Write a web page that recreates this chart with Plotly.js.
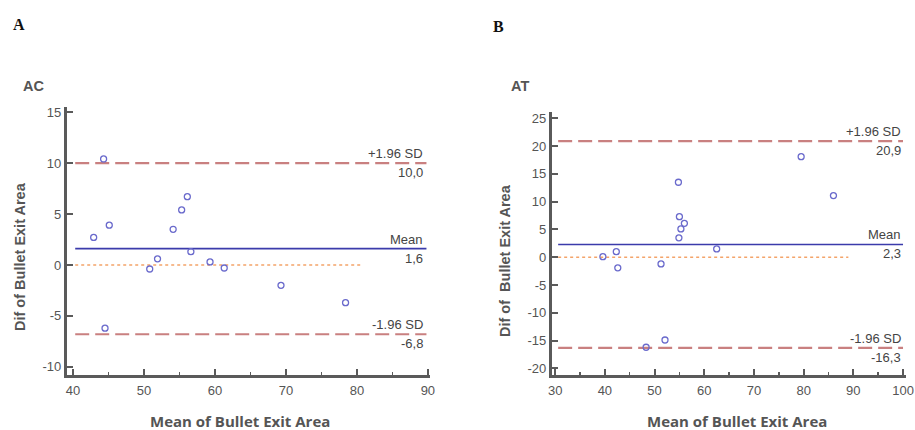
<!DOCTYPE html>
<html><head><meta charset="utf-8">
<script src="https://cdn.plot.ly/plotly-3.0.1.min.js"></script>
<style>body{margin:0;background:#fff}#c{width:915px;height:430px}</style>
</head><body><div id="c"></div>
<script>
// Panel A (AC)
const meanA = [44.3, 56.1, 55.3, 42.9, 45.1, 54.1, 56.6, 51.9, 50.8, 59.3, 61.3, 69.3, 78.4, 44.5];
const difA  = [10.4, 6.7, 5.4, 2.7, 3.9, 3.5, 1.3, 0.6, -0.4, 0.3, -0.3, -2.0, -3.7, -6.2];
const limitsA = {upper: 10.0, mean: 1.6, lower: -6.8};
const upperLabelA = ["+1.96 SD", "10,0"];
const meanLabelA = ["Mean", "1,6"];
const lowerLabelA = ["-1.96 SD", "-6,8"];
const xTicksA = [40, 50, 60, 70, 80, 90];
const yTicksA = [-10, -5, 0, 5, 10, 15];
const yTickTextA = ["-10", "-5", "0", "5", "10", "15"];

// Panel B (AT)
const meanB = [79.5, 86.0, 54.8, 55.0, 56.0, 55.3, 54.9, 62.5, 39.6, 42.3, 42.6, 51.3, 48.3, 52.1];
const difB  = [18.1, 11.1, 13.5, 7.3, 6.1, 5.1, 3.5, 1.5, 0.1, 1.0, -1.9, -1.2, -16.2, -14.9];
const limitsB = {upper: 20.9, mean: 2.3, lower: -16.3};
const upperLabelB = ["+1.96 SD", "20,9"];
const meanLabelB = ["Mean", "2,3"];
const lowerLabelB = ["-1.96 SD", "-16,3"];
const xTicksB = [30, 40, 50, 60, 70, 80, 90, 100];
const yTicksB = [-20, -15, -10, -5, 0, 5, 10, 15, 20, 25];
const yTickTextB = ["-20", "-15", "-10", "-5", "0", "5", "10", "15", "20", "25"];

const W = 915, H = 430;
const px = v => v / W, py = v => 1 - v / H;

const axisCol = '#5a5a5a';
const sdCol = '#c98080', meanCol = '#3b3bab', zeroCol = '#f4a46a', ptCol = '#6a6acc';

function panel(xs, ys, lim, xr, yr, xLine, zeroEnd) {
  return [
    {x: xLine, y: [lim.upper, lim.upper], xaxis: xr, yaxis: yr, mode: 'lines', line: {color: sdCol, width: 2.2, dash: '14px,6px'}, hoverinfo: 'skip'},
    {x: xLine, y: [lim.lower, lim.lower], xaxis: xr, yaxis: yr, mode: 'lines', line: {color: sdCol, width: 2.2, dash: '14px,6px'}, hoverinfo: 'skip'},
    {x: [xLine[0], zeroEnd], y: [0, 0], xaxis: xr, yaxis: yr, mode: 'lines', line: {color: zeroCol, width: 1.5, dash: 'dot'}, hoverinfo: 'skip'},
    {x: xLine, y: [lim.mean, lim.mean], xaxis: xr, yaxis: yr, mode: 'lines', line: {color: meanCol, width: 1.6}, hoverinfo: 'skip'},
    {x: xs, y: ys, xaxis: xr, yaxis: yr, mode: 'markers', type: 'scatter',
     marker: {symbol: 'circle-open', size: 6, color: ptCol, line: {width: 1.3, color: ptCol}}}
  ];
}

const data = [
  ...panel(meanA, difA, limitsA, 'x', 'y', [40.3, 89.8], 80.6),
  ...panel(meanB, difB, limitsB, 'x2', 'y2', [30.6, 100], 89)
];

const tickFont = {family: 'Liberation Sans, Arial, sans-serif', size: 13, color: '#555'};
function xax(dom, range, tv, dminor, anchor) {
  return {domain: dom, range: range, tickvals: tv, ticktext: tv.map(String), ticks: 'inside', ticklen: 6, tickwidth: 2,
    tickcolor: axisCol, showline: true, linecolor: axisCol, linewidth: 2.8, showgrid: false, zeroline: false,
    tickfont: tickFont, ticklabelstandoff: 2, anchor: anchor,
    minor: {ticks: 'inside', ticklen: 3, tickwidth: 1.5, tickcolor: axisCol, dtick: dminor, showgrid: false}, fixedrange: true};
}
function yax(dom, range, tv, tt, anchor) {
  return {domain: dom, range: range, tickvals: tv, ticktext: tt, ticks: 'inside', ticklen: 6, tickwidth: 2,
    tickcolor: axisCol, showline: true, linecolor: axisCol, linewidth: 2.8, showgrid: false, zeroline: false,
    tickfont: tickFont, anchor: anchor, fixedrange: true};
}

const lblFont = {family: 'Liberation Sans, Arial, sans-serif', size: 13, color: '#444'};
function lbls(xr, yr, xpos, lim, up, mn, lo) {
  const a = [];
  [[lim.upper, up], [lim.mean, mn], [lim.lower, lo]].forEach(([v, t]) => {
    a.push({xref: xr, yref: yr, x: xpos, y: v, text: t[0], showarrow: false, xanchor: 'right', yanchor: 'bottom', yshift: 0, font: lblFont});
    a.push({xref: xr, yref: yr, x: xpos, y: v, text: t[1], showarrow: false, xanchor: 'right', yanchor: 'top', yshift: 0, font: lblFont});
  });
  return a;
}

const titleFont = {family: 'Open Sans, Liberation Sans, sans-serif', size: 15, color: '#555'};
const yTitleFont = {family: 'Liberation Sans, Arial, sans-serif', size: 14.5, color: '#555'};
const panelFont = {family: 'Liberation Serif, Times New Roman, serif', size: 16, color: '#111'};
const annotations = [
  ...lbls('x', 'y', 89.6, limitsA, upperLabelA, meanLabelA, lowerLabelA),
  ...lbls('x2', 'y2', 100, limitsB, upperLabelB, meanLabelB, lowerLabelB),
  {xref: 'paper', yref: 'paper', x: px(11), y: py(24), text: '<b>A</b>', showarrow: false, xanchor: 'left', yanchor: 'middle', font: panelFont},
  {xref: 'paper', yref: 'paper', x: px(491), y: py(26), text: '<b>B</b>', showarrow: false, xanchor: 'left', yanchor: 'middle', font: panelFont},
  {xref: 'paper', yref: 'paper', x: px(21), y: py(86), text: '<b>AC</b>', showarrow: false, xanchor: 'left', yanchor: 'middle', font: {family: 'Liberation Sans, Arial, sans-serif', size: 14.5, color: '#555'}},
  {xref: 'paper', yref: 'paper', x: px(509), y: py(86), text: '<b>AT</b>', showarrow: false, xanchor: 'left', yanchor: 'middle', font: {family: 'Liberation Sans, Arial, sans-serif', size: 14.5, color: '#555'}},
  {xref: 'paper', yref: 'paper', x: px(240), y: py(421), text: '<b>Mean of Bullet Exit Area</b>', showarrow: false, xanchor: 'center', yanchor: 'middle', font: titleFont},
  {xref: 'paper', yref: 'paper', x: px(737), y: py(421), text: '<b>Mean of Bullet Exit Area</b>', showarrow: false, xanchor: 'center', yanchor: 'middle', font: titleFont},
  {xref: 'paper', yref: 'paper', x: px(20), y: py(257), text: '<b>Dif of Bullet Exit Area</b>', textangle: -90, showarrow: false, xanchor: 'center', yanchor: 'middle', font: yTitleFont},
  {xref: 'paper', yref: 'paper', x: px(505), y: py(260), text: '<b>Dif of  Bullet Exit Area</b>', textangle: -90, showarrow: false, xanchor: 'center', yanchor: 'middle', font: yTitleFont}
];

const layout = {
  width: W, height: H, margin: {l: 0, r: 0, t: 0, b: 0},
  paper_bgcolor: '#fff', plot_bgcolor: '#fff', showlegend: false,
  xaxis: xax([px(66.7), px(430)], [39.1, 90.3], xTicksA, 5, 'y'),
  yaxis: yax([py(375), py(107)], [-10.8, 15.5], yTicksA, yTickTextA, 'x'),
  xaxis2: xax([px(551.7), px(906)], [29.3, 100.6], xTicksB, 5, 'y2'),
  yaxis2: yax([py(375), py(111.7)], [-21.2, 26.2], yTicksB, yTickTextB, 'x2'),
  annotations: annotations
};

Plotly.newPlot('c', data, layout, {displayModeBar: false, staticPlot: true});
</script></body></html>
